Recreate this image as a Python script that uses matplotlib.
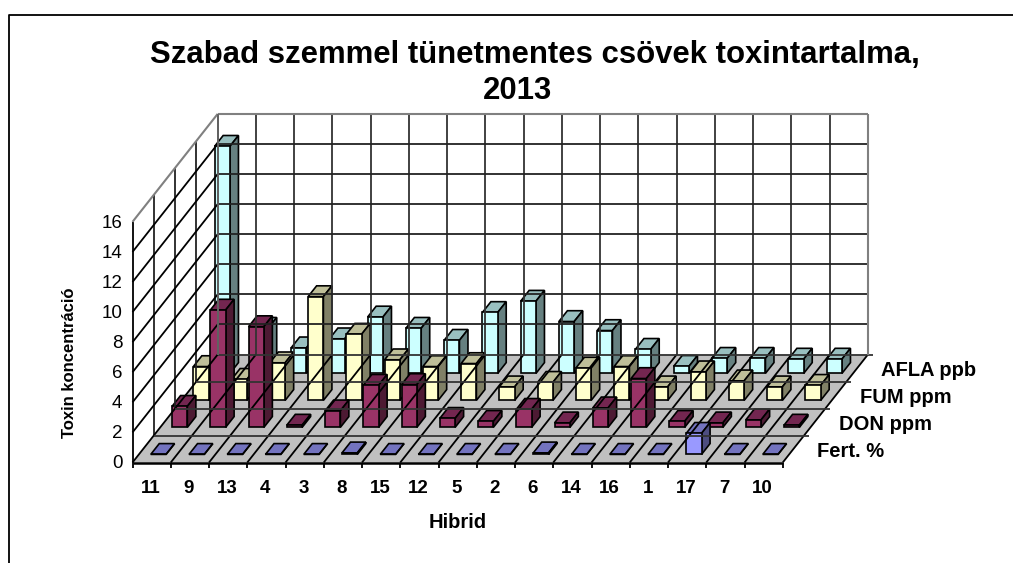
import matplotlib
matplotlib.use("Agg")
import matplotlib.pyplot as plt
from matplotlib.patches import Polygon

hybrids = ["11", "9", "13", "4", "3", "8", "15", "12", "5", "2", "6", "14", "16", "1", "17", "7", "10"]
series_names = ["Fert. %", "DON ppm", "FUM ppm", "AFLA ppb"]
y_ticks = [0, 2, 4, 6, 8, 10, 12, 14, 16]

fert = [0, 0, 0, 0, 0, 0.1, 0, 0, 0, 0, 0.1, 0, 0, 0, 1.4, 0, 0]
don = [1.4, 7.8, 6.7, 0.15, 1.1, 2.8, 2.85, 0.6, 0.4, 1.2, 0.3, 1.3, 3.25, 0.4, 0.3, 0.5, 0.15]
fum = [2.25, 1.4, 2.5, 6.9, 4.4, 2.7, 2.25, 2.45, 0.9, 1.2, 2.15, 2.25, 0.9, 1.9, 1.3, 0.9, 1.0]
afla = [15.1, 3.0, 1.7, 2.3, 3.75, 3.0, 2.2, 4.05, 4.8, 3.45, 2.85, 1.6, 0.47, 1.0, 1.0, 0.95, 0.95]
rows = [fert, don, fum, afla]

# front, top, side
colors = [("#9999FF", "#7373BF", "#4D4D80"),
          ("#993366", "#732650", "#4D1A33"),
          ("#FFFFCC", "#BFBF99", "#808066"),
          ("#CCFFFF", "#99BFBF", "#668080")]

# oblique projection used by the old 3D column chart
X0, Y0 = 132.5, 462.5
CAT_W = 38.25
DX, DY = 21.3, -27.0
Z_UNIT = 15.04
BAR_X = 0.31
BAR_W = 0.40
BAR_D = 0.30
BAR_DEPTH = 0.40


def proj(cat, depth, z=0):
    return X0 + cat * CAT_W + depth * DX, Y0 + depth * DY - z * Z_UNIT


def line(p, q, color="black", lw=1.3):
    ax.plot([p[0], q[0]], [p[1], q[1]], color=color, lw=lw, solid_capstyle="butt")


def face(points, color):
    ax.add_patch(Polygon(points, closed=True, facecolor=color, edgecolor="black", lw=1.2, joinstyle="miter"))


def draw_bar(i, s, value, cols):
    x1, x2 = i + BAR_X, i + BAR_X + BAR_W
    d1, d2 = s + BAR_D, s + BAR_D + BAR_DEPTH
    face([proj(x1, d1, value), proj(x2, d1, value), proj(x2, d2, value), proj(x1, d2, value)], cols[1])
    face([proj(x2, d1, 0), proj(x2, d2, 0), proj(x2, d2, value), proj(x2, d1, value)], cols[2])
    face([proj(x1, d1, 0), proj(x2, d1, 0), proj(x2, d1, value), proj(x1, d1, value)], cols[0])


n = len(hybrids)
m = len(rows)
top = y_ticks[-1]

fig = plt.figure(figsize=(10.13, 5.63), dpi=100)
ax = fig.add_axes([0, 0, 1, 1])
ax.set_xlim(0, 1013)
ax.set_ylim(563, 0)
ax.axis("off")
plt.rcParams["font.family"] = ["Liberation Sans", "DejaVu Sans"]

# chart border, only left and top show in the crop
ax.plot([9, 9, 1013], [563, 15, 15], color="black", lw=1.3)

# floor
ax.add_patch(Polygon([proj(0, 0), proj(n, 0), proj(n, m), proj(0, m)], closed=True, facecolor="#C0C0C0", edgecolor="none"))

# back wall grid
for i in range(n + 1):
    line(proj(i, m, 0), proj(i, m, top), color="#333333" if i < n else "#808080")
for v in y_ticks[1:-1]:
    line(proj(0, m, v), proj(n, m, v), color="#222222")

# left wall grid
for s in range(1, m):
    line(proj(0, s, 0), proj(0, s, top), color="#222222")
for v in y_ticks[1:-1]:
    line(proj(0, 0, v), proj(0, m, v))
line(proj(0, 0, 0), proj(0, 0, top))

# floor grid
for i in range(n + 1):
    line(proj(i, 0), proj(i, m))
for s in range(1, m + 1):
    line(proj(0, s), proj(n, s), color="#333333")
    line(proj(n, s), proj(n + 0.12, s), color="#333333")

# outer edges in grey
line(proj(0, 0, top), proj(0, m, top), color="#808080", lw=1.5)
line(proj(0, m, top), proj(n, m, top), color="#808080", lw=1.5)
line(proj(n, m, 0), proj(n, m, top), color="#808080", lw=1.5)
line(proj(0, m, 0), proj(0, m, top), color="#666666", lw=1.3)

# bars, back row first
for s in range(m - 1, -1, -1):
    for i in range(n):
        draw_bar(i, s, rows[s][i], colors[s])

# front edge and ticks
line(proj(0, 0), proj(n, 0), lw=1.8)
for i in range(n + 1):
    p = proj(i, 0)
    line(p, (p[0], p[1] + 5.5))

for i, h in enumerate(hybrids):
    p = proj(i + 0.47, 0)
    ax.text(p[0], 488.5, h, ha="center", va="center", fontsize=13.5, fontweight="bold")
for v in y_ticks:
    p = proj(0, 0, v)
    ax.text(p[0] - 10, p[1] + 1.5, str(v), ha="right", va="center", fontsize=13.5)
for s, name in enumerate(series_names):
    p = proj(n, s + 0.5)
    ax.text(p[0] + 24, p[1] + 2.5, name, ha="left", va="center", fontsize=14.5, fontweight="bold")

ax.text(535, 63, "Szabad szemmel tünetmentes csövek toxintartalma,", ha="center", va="baseline", fontsize=22.4, fontweight="bold")
ax.text(518, 99, "2013", ha="center", va="baseline", fontsize=22.4, fontweight="bold")
ax.text(69, 363, "Toxin koncentráció", ha="center", va="center", rotation=90, fontsize=12, fontweight="bold")
ax.text(458, 522, "Hibrid", ha="center", va="center", fontsize=14.5, fontweight="bold")

fig.savefig("out.png", dpi=100)
